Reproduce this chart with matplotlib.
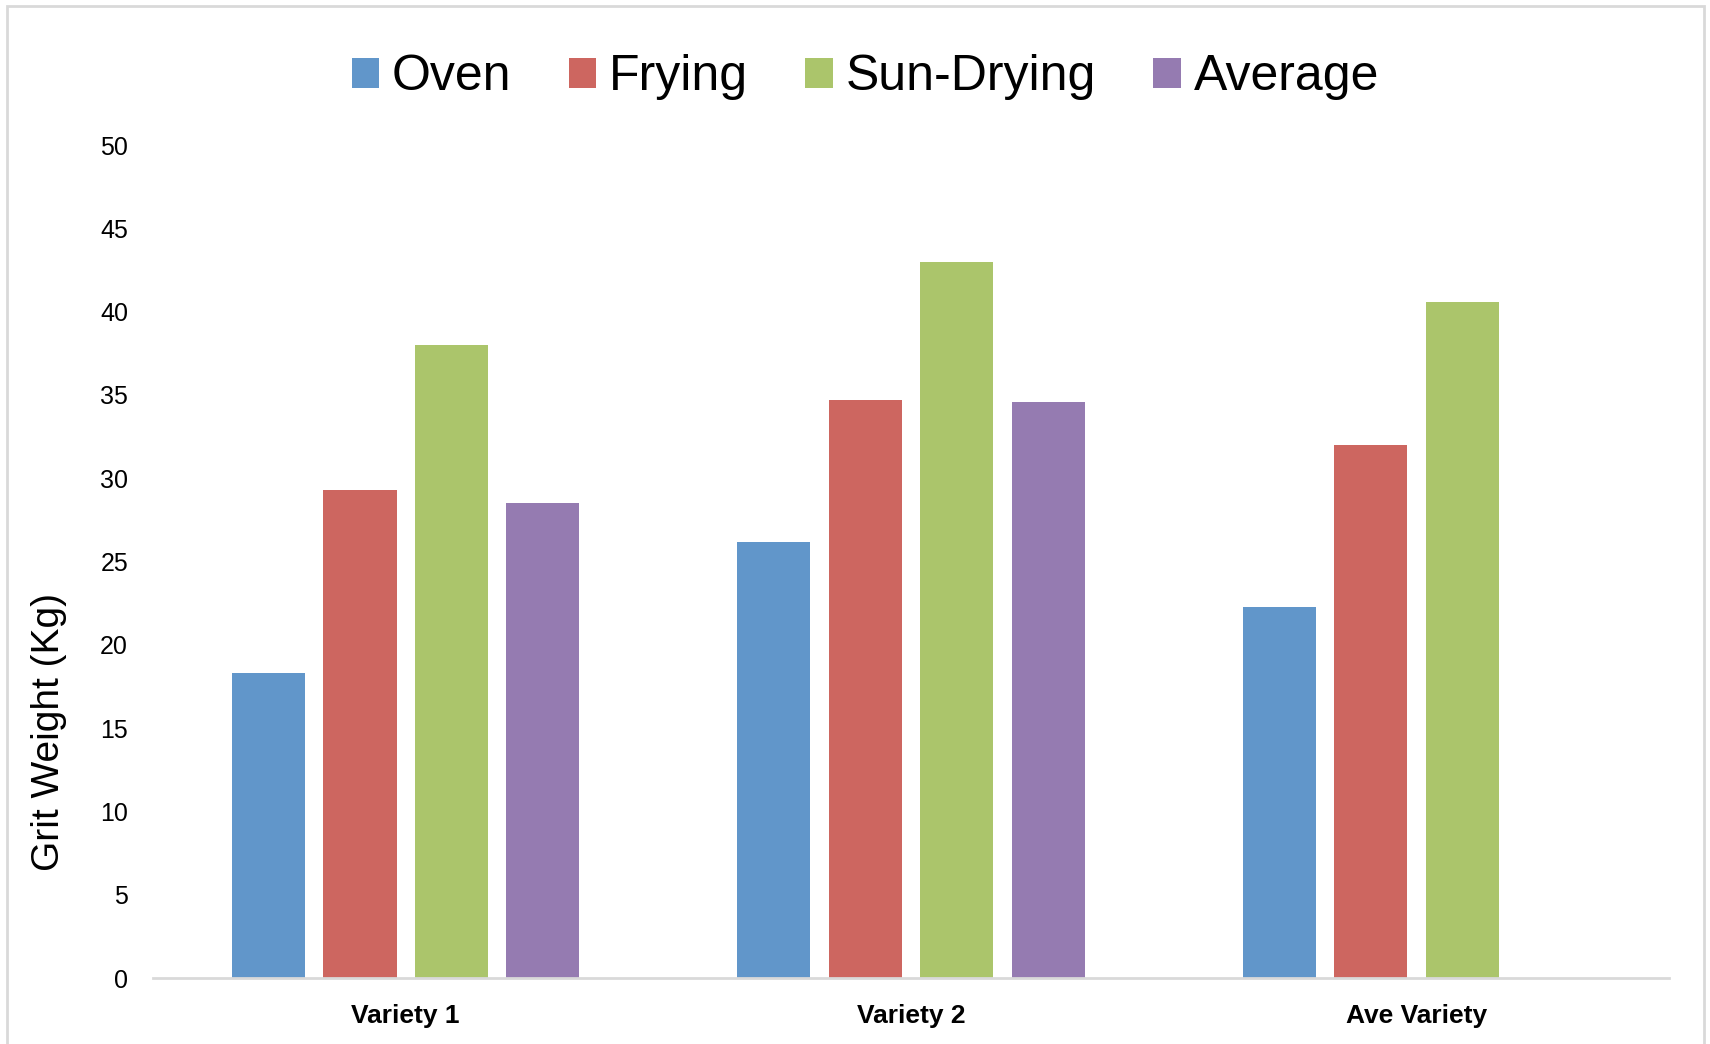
import numpy as np
import matplotlib.pyplot as plt
from matplotlib.patches import Rectangle

plt.rcParams['font.family'] = ['Liberation Sans', 'DejaVu Sans']

# Data
categories = ["Variety 1", "Variety 2", "Ave Variety"]
series_names = ["Oven", "Frying", "Sun-Drying", "Average"]
oven = [18.3, 26.2, 22.25]
frying = [29.3, 34.7, 32.0]
sun_drying = [38.0, 43.0, 40.6]
average = [28.5, 34.6, np.nan]
colors = ["#6196ca", "#cd6660", "#abc56b", "#957bb1"]

fig = plt.figure(figsize=(17.1, 10.44), dpi=100)
ax = fig.add_axes([0.0895, 0.0632, 0.8865, 0.7978])

x = np.arange(len(categories))
step = 0.181
width = 0.1446
offsets = (np.arange(4) - 1.5) * step

for vals, off, col, name in zip([oven, frying, sun_drying, average], offsets, colors, series_names):
    ax.bar(x + off, vals, width=width, color=col, label=name, zorder=2)

ax.set_xlim(-0.5, 2.5)
ax.set_ylim(0, 50)
ax.set_yticks(np.arange(0, 51, 5))
ax.set_xticks(x)
ax.set_xticklabels(categories, fontsize=19, fontweight="bold")
ax.tick_params(axis="y", length=0, labelsize=18, pad=18)
ax.tick_params(axis="x", length=0, pad=19)
for s in ["top", "right", "left"]:
    ax.spines[s].set_visible(False)
ax.spines["bottom"].set_color("#d9d9d9")
ax.spines["bottom"].set_linewidth(2)
ax.set_ylabel("Grit Weight (Kg)", fontsize=28)
ax.yaxis.set_label_coords(-0.057, 0.295)

ax.legend(loc="center", bbox_to_anchor=(0.506, 0.926), bbox_transform=fig.transFigure,
          ncol=4, frameon=False, fontsize=36, handlelength=0.55, handleheight=0.55,
          handletextpad=0.26, columnspacing=1.14, borderaxespad=0)

# light grey chart border
fig.patches.append(Rectangle((7 / 1710, -0.02), (1704 - 7) / 1710, 1.0 - 6 / 1044 + 0.02,
                             transform=fig.transFigure, fill=False,
                             edgecolor="#d9d9d9", linewidth=2))

fig.savefig("out.png", dpi=100)
